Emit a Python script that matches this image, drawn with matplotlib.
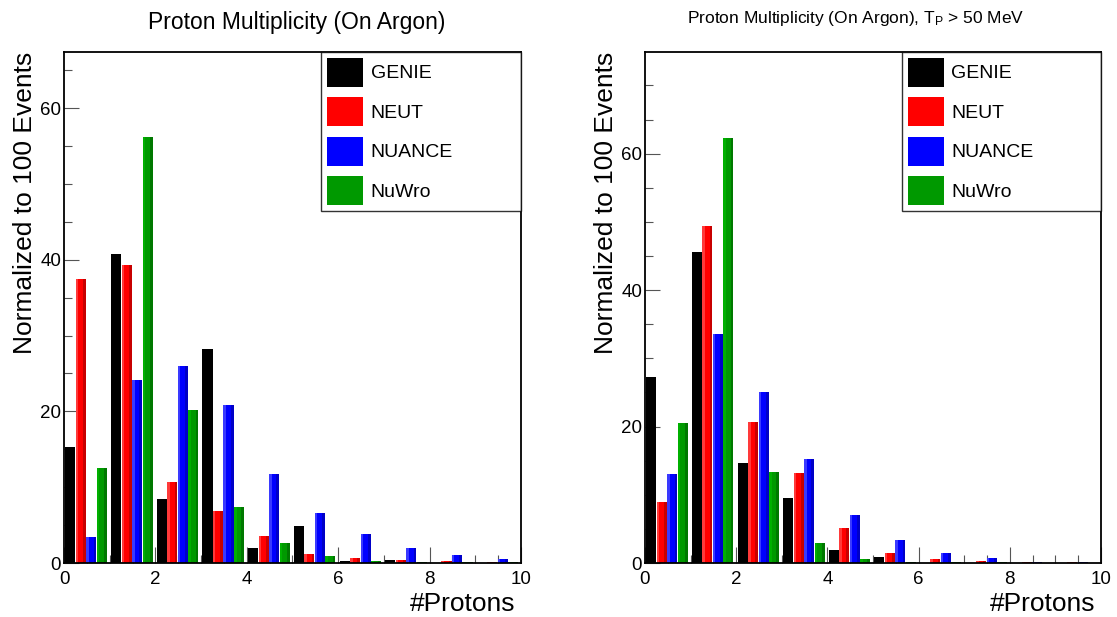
import numpy as np
import matplotlib
matplotlib.use("Agg")
import matplotlib.pyplot as plt
from matplotlib.ticker import MultipleLocator

plt.rcParams["font.family"] = ["Liberation Sans", "DejaVu Sans"]
plt.rcParams["mathtext.fontset"] = "custom"
plt.rcParams["mathtext.rm"] = "Liberation Sans"
plt.rcParams["mathtext.it"] = "Liberation Sans:italic"

bins = np.arange(10)
generators = ["GENIE", "NEUT", "NUANCE", "NuWro"]

# all protons
all_genie = [15.3, 40.8, 8.4, 28.25, 1.94, 4.85, 0.2, 0.35, 0.05, 0.02]
all_neut = [37.5, 39.35, 10.7, 6.8, 3.5, 1.15, 0.6, 0.35, 0.25, 0.15]
all_nuance = [3.4, 24.15, 26.0, 20.85, 11.7, 6.55, 3.8, 1.95, 1.0, 0.5]
all_nuwro = [12.5, 56.2, 20.2, 7.35, 2.6, 0.9, 0.2, 0.1, 0.1, 0.1]

# protons with T_P > 50 MeV
cut_genie = [27.25, 45.6, 14.6, 9.5, 1.9, 0.85, 0.02, 0.0, 0.0, 0.0]
cut_neut = [8.9, 49.4, 20.6, 13.15, 5.15, 1.4, 0.55, 0.25, 0.1, 0.1]
cut_nuance = [13.0, 33.55, 25.0, 15.2, 7.0, 3.3, 1.4, 0.7, 0.2, 0.1]
cut_nuwro = [20.5, 62.3, 13.3, 3.0, 0.55, 0.1, 0.1, 0.1, 0.05, 0.05]

# (base, light, dark) for the ROOT-like 3D bar look
shades = [("#000000", "#000000", "#000000"),
          ("#ff0000", "#ff3a3a", "#c80000"),
          ("#0000ff", "#3a3aff", "#0000c8"),
          ("#009900", "#00b000", "#007800")]

W = 0.22


def draw_panel(ax, series, ymax, title, title_x, title_y, title_size):
    for k, (vals, name) in enumerate(zip(series, generators)):
        base, light, dark = shades[k]
        left = bins + 0.03 + 0.23 * k
        ax.bar(left, vals, width=W, align="edge", color=base, lw=0, label=name)
        ax.bar(left, vals, width=W * 0.25, align="edge", color=light, lw=0)
        ax.bar(left + W * 0.72, vals, width=W * 0.28, align="edge", color=dark, lw=0)

    ax.set_xlim(0, 10)
    ax.set_ylim(0, ymax)
    ax.set_axisbelow(True)
    ax.xaxis.set_major_locator(MultipleLocator(2))
    ax.xaxis.set_minor_locator(MultipleLocator(0.5))
    ax.yaxis.set_major_locator(MultipleLocator(20))
    ax.yaxis.set_minor_locator(MultipleLocator(5))
    ax.tick_params(which="both", direction="in", color="#555555", width=0.8,
                   labelsize=13.5, top=False, right=False)
    ax.tick_params(axis="x", which="major", length=11.5, pad=6)
    ax.tick_params(axis="x", which="minor", length=5.5)
    ax.tick_params(axis="y", which="major", length=11, pad=2)
    ax.tick_params(axis="y", which="minor", length=5.8)
    for s in ax.spines.values():
        s.set_linewidth(1.3)

    ax.set_ylabel("Normalized to 100 Events", fontsize=19, loc="top")
    ax.yaxis.set_label_coords(-0.059, 1.0)
    ax.set_xlabel("#Protons", fontsize=19, loc="right")
    ax.xaxis.set_label_coords(0.987, -0.056)

    leg = ax.legend(loc="upper right", fontsize=14, frameon=True, fancybox=False,
                    edgecolor="black", borderaxespad=0, handlelength=1.85,
                    handleheight=1.9, handletextpad=0.4, labelspacing=0.55,
                    borderpad=0.3, bbox_to_anchor=(0.563, 0.0, 0.437, 1.0),
                    mode="expand")
    leg.get_frame().set_linewidth(1.0)

    fig.text(title_x, title_y, title, ha="center", va="center", fontsize=title_size)


fig = plt.figure(figsize=(11.17, 6.17), dpi=100)
ax1 = fig.add_axes([0.0573, 0.0875, 0.4091, 0.8282])
ax2 = fig.add_axes([0.5774, 0.0875, 0.4083, 0.8282])

draw_panel(ax1, [all_genie, all_neut, all_nuance, all_nuwro], 67.4,
           "Proton Multiplicity (On Argon)", 297 / 1117, 1 - 22 / 617, 16.5)
draw_panel(ax2, [cut_genie, cut_neut, cut_nuance, cut_nuwro], 74.9,
           r"Proton Multiplicity (On Argon), T$_\mathrm{P}$ > 50 MeV",
           856 / 1117, 1 - 18 / 617, 12.5)

fig.savefig("out.png", dpi=100)
